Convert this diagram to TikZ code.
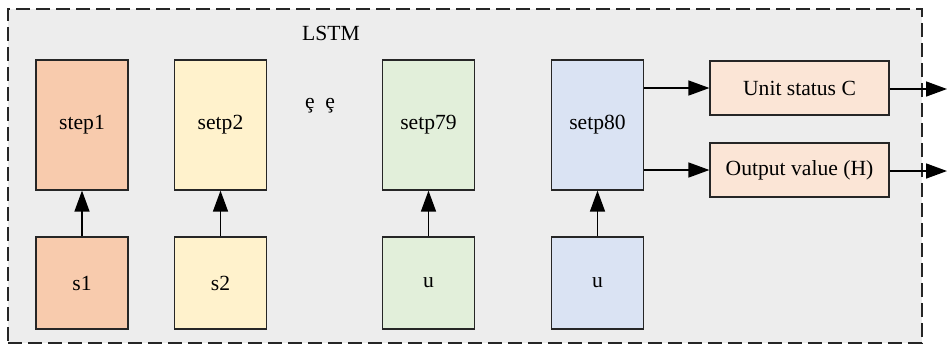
\documentclass[tikz,border=0pt]{standalone}
\usepackage{fontspec}
\setmainfont{Liberation Serif}
\usetikzlibrary{arrows.meta}
\definecolor{bgc}{HTML}{EDEDED}
\definecolor{c1}{HTML}{F8CBAD}
\definecolor{c2}{HTML}{FFF2CC}
\definecolor{c3}{HTML}{E2EFDA}
\definecolor{c4}{HTML}{DAE3F3}
\definecolor{c5}{HTML}{FBE5D6}
\begin{document}
\begin{tikzpicture}[x=0.5pt,y=-0.5pt,
  font=\fontsize{10.8}{13}\selectfont,
  box/.style={draw=black!85,line width=0.6pt,inner sep=0pt},
  tall/.style={box,minimum width=46pt,minimum height=65pt},
  sq/.style={box,minimum width=46pt,minimum height=46pt},
  outbox/.style={box,fill=c5,minimum width=89.5pt,minimum height=27pt},
  arr/.style={line width=0.75pt,-{Triangle[length=10.5pt,width=7.5pt]}}]
\useasboundingbox (0,0) rectangle (947,345);
\node[draw=black!85,fill=bgc,line width=0.6pt,dash pattern=on 7pt off 3pt,minimum width=457pt,minimum height=167pt,inner sep=0pt] (frame) at (465,176) {};
\node (lstm) at (331,33) {LSTM};
\node (dots) at (320,106) {ȩ\,\,\,ȩ};
\node[tall,fill=c1] (st1) at (82,125) {step1};
\node[tall,fill=c2] (st2) at (220.5,125) {setp2};
\node[tall,fill=c3] (st79) at (428.5,125) {setp79};
\node[tall,fill=c4] (st80) at (597.5,125) {setp80};
\node[sq,fill=c1] (s1) at (82,283) {s1};
\node[sq,fill=c2] (s2) at (220.5,283) {s2};
\node[sq,fill=c3] (u1) at (428.5,283) {u};
\node[sq,fill=c4] (u2) at (597.5,283) {u};
\node[outbox] (unit) at (799.5,88) {Unit status C};
\node[outbox] (outv) at (799.5,170) {Output value (H)};
\coordinate (e1) at (947,89);
\coordinate (e2) at (947,171);
\draw[arr] (s1) -- (st1);
\draw[arr] (s2) -- (st2);
\draw[arr] (u1) -- (st79);
\draw[arr] (u2) -- (st80);
\draw[arr] (st80.east |- unit.west) -- (unit.west);
\draw[arr] (st80.east |- outv.west) -- (outv.west);
\draw[arr] (unit.east |- e1) -- (e1);
\draw[arr] (outv.east |- e2) -- (e2);
\end{tikzpicture}
\end{document}
